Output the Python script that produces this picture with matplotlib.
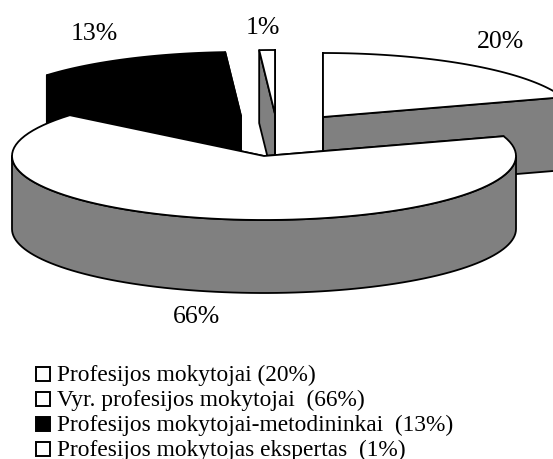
import numpy as np
from matplotlib import pyplot as plt
from matplotlib.patches import Polygon, Rectangle

plt.rcParams["font.family"] = ["Liberation Serif", "DejaVu Serif"]

shares = [20, 66, 13, 1]
share_labels = ["20%", "66%", "13%", "1%"]
legend_labels = [
    "Profesijos mokytojai (20%)",
    "Vyr. profesijos mokytojai  (66%)",
    "Profesijos mokytojai-metodininkai  (13%)",
    "Profesijos mokytojas ekspertas  (1%)",
]

# slice look
TOP_COLORS = ["white", "white", "black", "white"]
SIDE_COLORS = ["#808080", "#808080", "black", "#808080"]
LINE = 1.3

# pie geometry, in pixels
CX, CY = 264, 157
RX, RY = 252, 64
DEPTH = 73
OFFSETS = [(59, -39), (0, 0), (-23, -40), (11, -42)]
LABEL_POS = [(501, 42), (196, 317), (94, 34), (263, 28)]
LEGEND_Y = [375, 400, 425, 450]


def rim(apex, t0, t1):
    t = np.radians(np.linspace(t0, t1, 90))
    return np.column_stack([apex[0] + RX * np.sin(t), apex[1] - RY * np.cos(t)])


def extrude(points):
    return np.vstack([points, (points + [0, DEPTH])[::-1]])


def draw_slice(ax, i, t0, t1):
    apex = np.array([CX + OFFSETS[i][0], CY + OFFSETS[i][1]], dtype=float)
    style = {"edgecolor": "black", "linewidth": LINE, "joinstyle": "round"}

    # the two cut faces, back one first
    for t in sorted([t0, t1], key=lambda a: np.sin(np.radians(a)) * (a - 180)):
        edge = np.vstack([apex, rim(apex, t, t)[0]])
        ax.add_patch(Polygon(extrude(edge), facecolor=SIDE_COLORS[i], **style))

    # outer wall only where it faces the front
    lo, hi = max(t0, 90), min(t1, 270)
    if lo < hi:
        ax.add_patch(Polygon(extrude(rim(apex, lo, hi)), facecolor=SIDE_COLORS[i], **style))

    top = np.vstack([apex, rim(apex, t0, t1)])
    ax.add_patch(Polygon(top, facecolor=TOP_COLORS[i], **style))


fig = plt.figure(figsize=(5.53, 4.6), dpi=100)
ax = fig.add_axes([0, 0, 1, 1])
ax.set_xlim(0, 553)
ax.set_ylim(460, 0)
ax.axis("off")

ends = np.cumsum(shares) / np.sum(shares) * 360
starts = np.concatenate([[0], ends[:-1]])

# back slices first, the big one sits in front of everything
for i in [2, 3, 0, 1]:
    draw_slice(ax, i, starts[i], ends[i])

for text, (x, y) in zip(share_labels, LABEL_POS):
    ax.text(x, y, text, fontsize=18.5, ha="center", va="center")

for text, color, y in zip(legend_labels, TOP_COLORS, LEGEND_Y):
    ax.add_patch(Rectangle((35.5, y - 7.5), 14, 14, facecolor=color, edgecolor="black", linewidth=1.4))
    ax.text(57, y, text, fontsize=16.8, ha="left", va="center")

fig.savefig("out.png", dpi=100)
